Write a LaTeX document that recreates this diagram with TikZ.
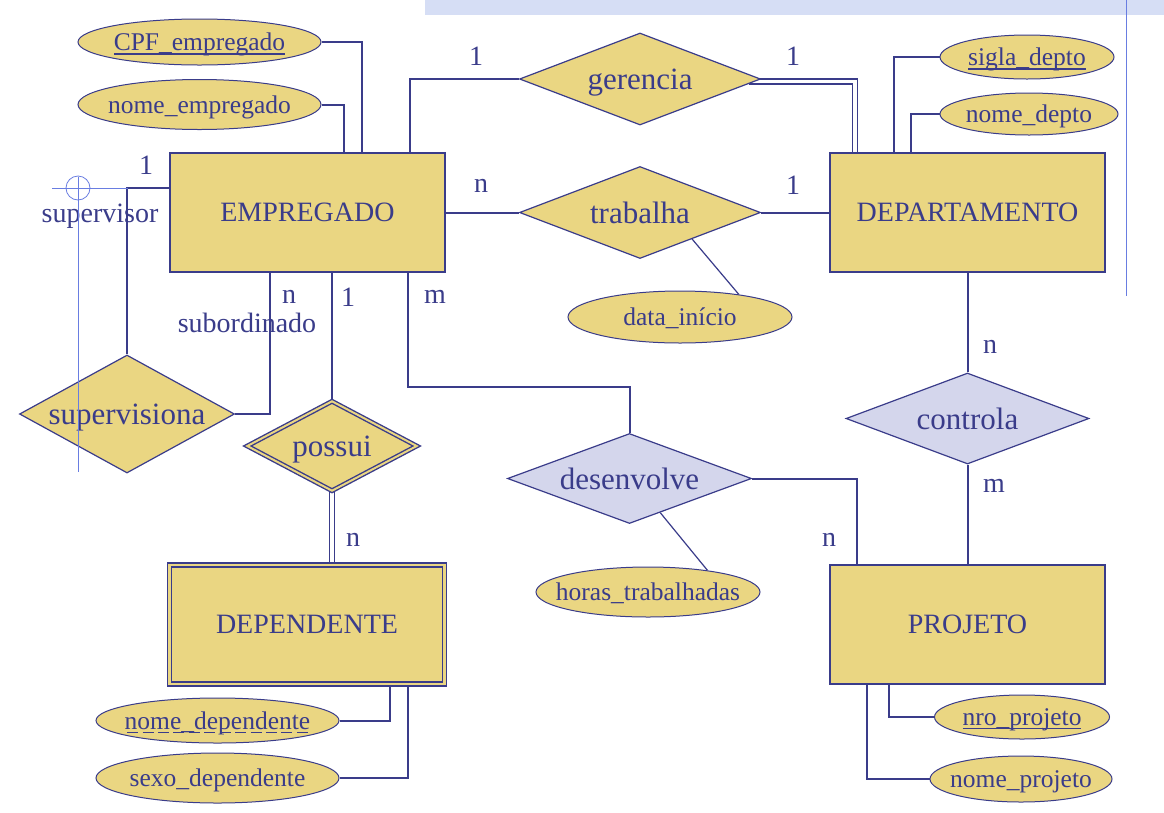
\documentclass[tikz,border=0pt]{standalone}
\usepackage{fontspec}
\setmainfont{Liberation Serif}
\usetikzlibrary{shapes.geometric,backgrounds}

\definecolor{erline}{RGB}{58,60,138}
\definecolor{erfill}{RGB}{234,214,130}
\definecolor{erlav}{RGB}{212,214,236}
\definecolor{slideblue}{RGB}{105,125,225}
\definecolor{stripblue}{RGB}{214,222,245}

% solid and dashed underline for key attributes
\newcommand{\erul}[1]{\setbox0\hbox{#1}\rlap{\vrule width \wd0 height -2.5pt depth 3.9pt}\box0}
\newcommand{\erdashul}[1]{\setbox0\hbox{#1}\rlap{\hbox to \wd0{\xleaders\hbox{\kern2pt\vrule width 11pt height -2.5pt depth 3.9pt\kern2pt}\hfill}}\box0}
\newcommand{\zw}[1]{\makebox[0pt]{#1}}

\begin{document}
\begin{tikzpicture}[x=1pt, y=-1pt, color=erline,
    entity/.style={draw, fill=erfill, line width=2pt, minimum width=275pt,
      minimum height=119pt, font=\fontsize{28}{30}\selectfont},
    weak/.style={entity, line width=1.6pt, double=erfill, double distance=2.2pt},
    relation/.style={diamond, draw, fill=erfill, line width=1.2pt, inner sep=0pt,
      text depth=0pt, font=\fontsize{31}{33}\selectfont},
    attr/.style={ellipse, draw, fill=erfill, line width=1pt, inner sep=0pt,
      text depth=0pt, font=\fontsize{25.5}{27}\selectfont},
    card/.style={inner sep=0pt, font=\fontsize{28}{30}\selectfont},
    link/.style={draw=erline, line width=2pt},
    thinlink/.style={draw=erline, line width=1.2pt},
    doublelink/.style={draw=erline, line width=1.8pt, double=white, double distance=3.2pt}]
  \useasboundingbox (0,0) rectangle (1164,812);

  % entities
  \node (emp) [entity] at (307.5,212.5) {EMPREGADO};
  \node (dep) [entity] at (967.5,212.5) {DEPARTAMENTO};
  \node (dpd) [weak] at (307,624.5) {DEPENDENTE};
  \node (proj) [entity] at (967.5,624.5) {PROJETO};

  % relationships
  \node (ger) [relation, minimum width=241pt, minimum height=92pt] at (640,79) {\zw{gerencia}};
  \node (trab) [relation, minimum width=241pt, minimum height=92pt] at (640,212.5) {\zw{trabalha}};
  \node (sup) [relation, minimum width=215pt, minimum height=118pt] at (127,414) {\zw{supervisiona}};
  \node (poss) [relation, line width=1.4pt, double=erfill, double distance=2pt,
    minimum width=170pt, minimum height=90pt] at (332,446) {\zw{possui}};
  \node (desv) [relation, fill=erlav, minimum width=244pt, minimum height=90pt] at (629.5,478.5) {\zw{desenvolve}};
  \node (ctrl) [relation, fill=erlav, minimum width=243pt, minimum height=91pt] at (967.5,418.5) {\zw{controla}};

  % attributes
  \node (cpf) [attr, minimum width=243pt, minimum height=46pt] at (199.5,42) {\zw{\erul{CPF\_empregado}}};
  \node (nomeemp) [attr, minimum width=243pt, minimum height=50pt] at (199.5,104.5) {\zw{nome\_empregado}};
  \node (sigla) [attr, minimum width=174pt, minimum height=44pt] at (1027,57) {\zw{\erul{sigla\_depto}}};
  \node (nomedep) [attr, minimum width=178pt, minimum height=42pt] at (1029,114) {\zw{nome\_depto}};
  \node (datai) [attr, minimum width=224pt, minimum height=52pt] at (680,317) {\zw{data\_início}};
  \node (horas) [attr, minimum width=224pt, minimum height=50pt] at (648,592) {\zw{horas\_trabalhadas}};
  \node (nomedpd) [attr, minimum width=243pt, minimum height=45pt] at (217.5,720.5) {\zw{\erdashul{nome\_dependente}}};
  \node (sexo) [attr, minimum width=243pt, minimum height=50pt] at (217.5,778) {\zw{sexo\_dependente}};
  \node (nroproj) [attr, minimum width=175pt, minimum height=44pt] at (1022,717) {\zw{\erul{nro\_projeto}}};
  \node (nomeproj) [attr, minimum width=182pt, minimum height=46pt] at (1021,779) {\zw{nome\_projeto}};

  % cardinalities and roles
  \node (lger1) [card] at (476,56) {1};
  \node (lger2) [card] at (793,56) {1};
  \node (ltrab1) [card] at (481,186) {n};
  \node (ltrab2) [card] at (793,185) {1};
  \node (lctrl1) [card] at (990,347) {n};
  \node (lctrl2) [card] at (994,486) {m};
  \node (lsup1) [card] at (146,165) {1};
  \node (lsupv) [card] at (100,216) {supervisor};
  \node (lsup2) [card] at (289,297) {n};
  \node (lsub) [card] at (247,323) {subordinado};
  \node (lposs1) [card] at (348,297) {1};
  \node (lposs2) [card] at (353,540) {n};
  \node (ldesv1) [card] at (435,297) {m};
  \node (ldesv2) [card] at (829,540) {n};

  \begin{scope}[on background layer]
    \fill [white] (0,0) rectangle (1164,812);
    \fill [stripblue] (425,0) rectangle (1164,15);
    \draw [slideblue, line width=0.8pt] (1126,0) -- (1126,296);

    \draw [link] (cpf.east) -| ([xshift=193pt]emp.north west);
    \draw [link] (nomeemp.east) -| ([xshift=175pt]emp.north west);
    \draw [link] (ger.west) -| ([xshift=241pt]emp.north west);
    \draw [doublelink] ([xshift=-12pt,yshift=-2.5pt]ger.east) -| ([xshift=26pt]dep.north west);
    \draw [link] (sigla.west) -| ([xshift=65pt]dep.north west);
    \draw [link] (nomedep.west) -| ([xshift=82pt]dep.north west);
    \draw [link] (emp.east) -- (trab.west);
    \draw [link] (trab.east) -- (dep.west);
    \draw [thinlink] (trab.-27) -- (datai.21);
    \draw [link] (dep.south) -- (ctrl.north);
    \draw [link] (ctrl.south) -- (proj.north);
    \draw [link] ([yshift=24.5pt]emp.west) -| (sup.north);
    \draw [link] ([xshift=101pt]emp.south west) |- (sup.east);
    \draw [link] (poss.north |- emp.south) -- (poss.north);
    \draw [doublelink] (poss.south) -- (poss.south |- dpd.north);
    \draw [link] ([xshift=239pt]emp.south west) -- ++(0,114) -| (desv.north);
    \draw [link] (desv.east) -| ([xshift=28pt]proj.north west);
    \draw [thinlink] (desv.-48) -- (horas.20);
    \draw [link] (nomedpd.east) -| ([xshift=221pt]dpd.south west);
    \draw [link] (sexo.east) -| ([xshift=239pt]dpd.south west);
    \draw [link] (nroproj.west) -| ([xshift=60pt]proj.south west);
    \draw [link] (nomeproj.west) -| ([xshift=37.5pt]proj.south west);
  \end{scope}

  \draw [slideblue, line width=0.8pt] (78,177) -- (78,472);
  \draw [slideblue, line width=0.8pt] (52,188) -- (128,188);
  \draw [slideblue, line width=0.8pt] (78,188) circle [radius=12pt];
\end{tikzpicture}
\end{document}
